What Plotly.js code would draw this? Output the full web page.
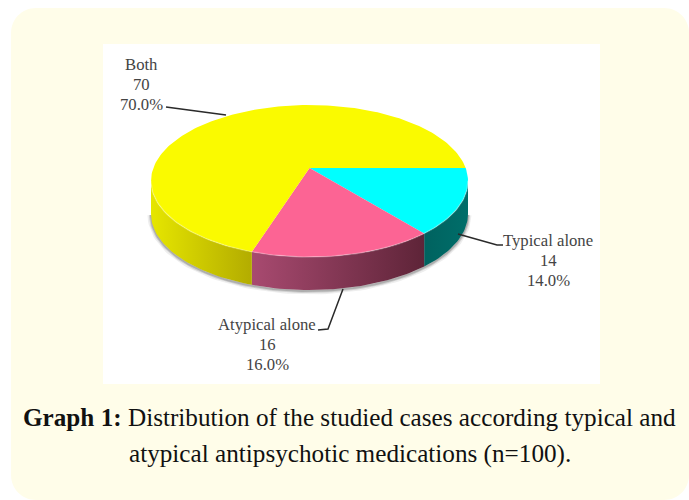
<!DOCTYPE html>
<html><head><meta charset="utf-8">
<script src="https://cdn.plot.ly/plotly-3.0.1.min.js"></script>
<style>html,body{margin:0;padding:0;background:#fff}#c{width:689px;height:500px}</style>
</head><body><div id="c"></div>
<script>
const categories = ['Typical alone', 'Atypical alone', 'Both'];
const counts = [14, 16, 70];
const percentLabels = ['14.0%', '16.0%', '70.0%'];
const topColors = ['#00ffff', '#fc6494', '#fafa00'];
const sideColors = [['#006e6a', '#00625f'], ['#a84a70', '#5e2438'], ['#e6e600', '#b3ac00']];

// Pie geometry (pixels on the page-sized axes)
const cx = 309.5, cy = 181, rx = 158.5, ry = 76, tilt = 0.171, depth = 33;
const total = counts.reduce((a, b) => a + b, 0);
function project(deg) {
  const t = deg * Math.PI / 180, u = Math.cos(t), v = Math.sin(t);
  const d = 1 + tilt * v;
  return [cx + rx * u * Math.sqrt(1 - tilt * tilt) / d, cy - ry * (v + tilt) / d];
}
function arc(a, b) {
  const n = Math.max(2, Math.ceil(Math.abs(b - a) / 1.5));
  const pts = [];
  for (let i = 0; i <= n; i++) pts.push(project(a + (b - a) * i / n));
  return pts;
}
const hidden = Math.asin(tilt) * 180 / Math.PI;
const frontStart = -hidden, frontEnd = -180 + hidden;
const traces = [];
function poly(pts, extra) {
  traces.push(Object.assign({
    type: 'scatter', mode: 'lines', x: pts.map(p => p[0]), y: pts.map(p => p[1]),
    fill: 'toself', line: {width: 0}, hoverinfo: 'skip', showlegend: false
  }, extra));
}
function stroke(pts, color, width) {
  traces.push({type: 'scatter', mode: 'lines', x: pts.map(p => p[0]), y: pts.map(p => p[1]),
    line: {color: color, width: width}, hoverinfo: 'skip', showlegend: false});
}
// soft shadow round the lower part of the side wall
const frontArc = arc(frontStart, frontEnd);
const contour = frontArc.map(p => [p[0], p[1] + depth + 1]);
stroke(contour, 'rgba(90,90,90,0.10)', 7);
stroke(contour, 'rgba(80,80,80,0.18)', 4);
stroke(contour, 'rgba(70,70,70,0.25)', 2);
// side walls and top faces
let angle = 0;
const spans = counts.map(c => { const s = [angle, angle - 360 * c / total]; angle = s[1]; return s; });
spans.forEach((s, i) => {
  const a = Math.min(s[0], frontStart), b = Math.max(s[1], frontEnd);
  if (a <= b) return;
  const top = arc(a, b);
  const low = top.slice().reverse().map(p => [p[0], p[1] + depth]);
  const left = i === 0 ? sideColors[i][1] : sideColors[i][0];
  const right = i === 0 ? sideColors[i][0] : sideColors[i][1];
  poly(top.concat(low).concat([top[0]]), {
    fillcolor: sideColors[i][0],
    fillgradient: {type: 'horizontal', colorscale: [[0, left], [1, right]]}
  });
});
const centre = [cx, cy - ry * tilt];
spans.forEach((s, i) => {
  poly([centre].concat(arc(s[0], s[1])).concat([centre]), {fillcolor: topColors[i]});
});
// bevel highlight along the front rim
stroke(frontArc, 'rgba(255,255,255,0.25)', 1.5);
// leader lines
const leaderColor = '#2a2a2a';
[
  [[166, 226], [107, 115]],
  [[458, 497, 503], [234, 245, 245]],
  [[343, 328, 318], [289, 329, 330]]
].forEach(l => traces.push({type: 'scatter', mode: 'lines', x: l[0], y: l[1],
  line: {color: leaderColor, width: 1.5}, hoverinfo: 'skip', showlegend: false}));

const serif = '"Liberation Serif", serif';
const labelFont = {family: serif, size: 16.7, color: '#444444'};
const lineGap = 20;
const labelPos = [[548, 240], [267, 324], [141, 64]];
const annotations = [];
categories.forEach((c, i) => {
  [c, String(counts[i]), percentLabels[i]].forEach((t, j) => annotations.push({
    x: labelPos[i][0], y: labelPos[i][1] + j * lineGap, xref: 'x', yref: 'y', text: t,
    showarrow: false, font: labelFont, xanchor: 'center', yanchor: 'middle'
  }));
});
const captionFont = {family: serif, size: 25.2, color: '#111111'};
annotations.push({x: 349.5, y: 417, xref: 'x', yref: 'y', showarrow: false, xanchor: 'center', yanchor: 'middle',
  font: captionFont, text: '<b>Graph 1:</b> Distribution of the studied cases according typical and'});
annotations.push({x: 349.5, y: 453.5, xref: 'x', yref: 'y', showarrow: false, xanchor: 'center', yanchor: 'middle',
  font: captionFont, text: 'atypical antipsychotic medications (n=100).'});

const card = 'M 11 33 C 11 19 22 8 36 8 L 664 8 C 678 8 689 19 689 33 L 689 475 C 689 489 678 500 664 500 L 36 500 C 22 500 11 489 11 475 Z';
const layout = {
  width: 689, height: 500, margin: {l: 0, r: 0, t: 0, b: 0},
  paper_bgcolor: '#ffffff', plot_bgcolor: 'rgba(0,0,0,0)', showlegend: false,
  xaxis: {range: [0, 689], visible: false, fixedrange: true},
  yaxis: {range: [500, 0], visible: false, fixedrange: true},
  shapes: [
    {type: 'path', path: card, xref: 'x', yref: 'y', fillcolor: '#fffde9', line: {width: 0}, layer: 'below'},
    {type: 'rect', x0: 103, x1: 600, y0: 44, y1: 384, xref: 'x', yref: 'y', fillcolor: '#ffffff', line: {width: 0}, layer: 'below'}
  ],
  annotations
};
Plotly.newPlot('c', traces, layout, {displayModeBar: false, staticPlot: true});
</script></body></html>
